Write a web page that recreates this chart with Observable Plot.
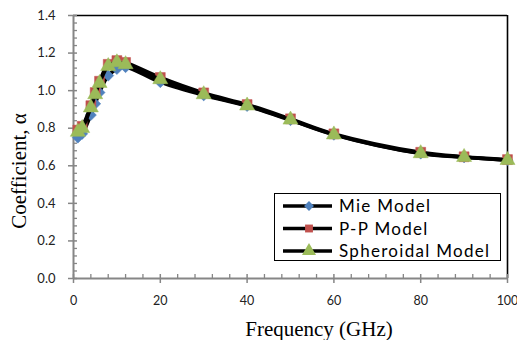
<!DOCTYPE html>
<html>
<head>
<meta charset="utf-8">
<script src="https://cdn.jsdelivr.net/npm/d3@7"></script>
<script src="https://cdn.jsdelivr.net/npm/@observablehq/plot@0.6"></script>
<style>
  html, body { margin: 0; padding: 0; background: #fff; }
  #wrap { position: relative; width: 517px; height: 340px; overflow: hidden; }
  #legend { position: absolute; left: 274px; top: 193px; width: 225px; height: 66px;
            border: 1.6px solid #000; background: #fff; }
  .title { position: absolute; font-family: "Liberation Serif", "Times New Roman", serif;
           font-size: 21px; color: #000; white-space: nowrap; line-height: 1; }
  #ytitle { left: 19px; top: 171px; transform: translate(-50%, -50%) rotate(-90deg); }
  #xtitle { left: 319px; top: 329px; transform: translate(-50%, -50%); }
</style>
</head>
<body>
<div id="wrap"><div id="chart"></div><div id="legend"></div>
<div class="title" id="ytitle"></div><div class="title" id="xtitle"></div></div>
<script>
const freq = [1, 2, 4, 5, 6, 8, 10, 12, 20, 30, 40, 50, 60, 80, 90, 100];
const mie  = [0.75, 0.77, 0.87, 0.93, 0.99, 1.08, 1.115, 1.125, 1.045, 0.975, 0.918, 0.843, 0.765, 0.665, 0.645, 0.630];
const pp   = [0.79, 0.81, 0.92, 0.99, 1.05, 1.14, 1.160, 1.150, 1.070, 0.988, 0.926, 0.850, 0.770, 0.672, 0.648, 0.633];
const sph  = [0.78, 0.80, 0.91, 0.98, 1.04, 1.13, 1.150, 1.140, 1.060, 0.980, 0.920, 0.845, 0.766, 0.666, 0.646, 0.630];
const seriesNames = ["Mie Model", "P-P Model", "Spheroidal Model"];
const seriesColors = ["#4F81BD", "#C0504D", "#9BBB59"];
const seriesSymbols = ["diamond2", "square", "triangle"];
const xTitle = "Frequency (GHz)";
const yTitle = "Coefficient, α";
const xTicks = [0, 20, 40, 60, 80, 100];
const xMinor = [4, 8, 12, 16, 24, 28, 32, 36, 44, 48, 52, 56, 64, 68, 72, 76, 84, 88, 92, 96];
const yTicks = [0, 0.2, 0.4, 0.6, 0.8, 1.0, 1.2, 1.4];
const yMinor = [0.04, 0.08, 0.12, 0.16, 0.24, 0.28, 0.32, 0.36, 0.44, 0.48, 0.52, 0.56,
                0.64, 0.68, 0.72, 0.76, 0.84, 0.88, 0.92, 0.96, 1.04, 1.08, 1.12, 1.16,
                1.24, 1.28, 1.32, 1.36];

const series = [mie, pp, sph].map((vals, k) => freq.map((f, i) => ({x: f, y: vals[i], s: seriesNames[k]})));

const gray = "#868686";
const marks = [];
marks.push(Plot.ruleY([1.4], {stroke: "#000", strokeWidth: 1.6}));
marks.push(Plot.ruleX([100], {stroke: "#000", strokeWidth: 1.6}));
marks.push(Plot.axisY({ticks: yMinor, tickSize: 4, dx: 4, text: null, label: null, stroke: gray, strokeWidth: 1.3}));
marks.push(Plot.axisY({ticks: yTicks, tickSize: 9, dx: 4, text: null, label: null, stroke: gray, strokeWidth: 1.5}));
marks.push(Plot.axisX({ticks: xMinor, tickSize: 4, dy: -4, text: null, label: null, stroke: gray, strokeWidth: 1.3}));
marks.push(Plot.axisX({ticks: xTicks, tickSize: 9, dy: -4, text: null, label: null, stroke: gray, strokeWidth: 1.5}));
marks.push(Plot.ruleX([0], {stroke: gray, strokeWidth: 2}));
marks.push(Plot.ruleY([0], {stroke: gray, strokeWidth: 2}));
marks.push(Plot.axisY({ticks: yTicks, tickSize: 0, tickPadding: 18, tickFormat: d3.format(".1f"),
  fontSize: 13, fontFamily: "Lato", fill: "#222", label: null}));
marks.push(Plot.axisX({ticks: xTicks, tickSize: 0, tickPadding: 18, tickFormat: d3.format("d"),
  fontSize: 12.5, fontFamily: "Lato", fill: "#222", label: null}));
const radii = [5.0, 5.6, 5.6];
series.forEach((d, k) => {
  marks.push(Plot.line(d, {x: "x", y: "y", stroke: "#000", strokeWidth: 3.5, curve: "catmull-rom"}));
  marks.push(Plot.dot(d, {x: "x", y: "y", symbol: seriesSymbols[k], fill: seriesColors[k],
    stroke: seriesColors[k], strokeWidth: 0.5, r: radii[k]}));
});

const chart = Plot.plot({
  width: 517, height: 340,
  marginLeft: 73, marginRight: 10, marginTop: 15, marginBottom: 62,
  x: {domain: [0, 100], axis: null},
  y: {domain: [0, 1.4], axis: null},
  style: {background: "#fff", overflow: "visible"},
  marks
});
document.getElementById("chart").appendChild(chart);
document.getElementById("xtitle").textContent = xTitle;
document.getElementById("ytitle").textContent = yTitle;

const lg = d3.select("#legend").append("svg").attr("width", 225).attr("height", 66);
seriesNames.forEach((name, k) => {
  const cy = 12 + k * 22.5;
  const g = lg.append("g").attr("transform", `translate(0,${cy})`);
  g.append("line").attr("x1", 8).attr("x2", 57).attr("y1", 0).attr("y2", 0)
    .attr("stroke", "#000").attr("stroke-width", 3.5);
  const sym = {diamond2: d3.symbolDiamond2, square: d3.symbolSquare, triangle: d3.symbolTriangle}[seriesSymbols[k]];
  const size = k === 2 ? 85 : 62;
  g.append("path").attr("d", d3.symbol(sym, size)()).attr("transform", "translate(34,0)")
    .attr("fill", seriesColors[k]);
  g.append("text").attr("x", 64).attr("y", 0).attr("dy", "0.36em")
    .attr("font-family", "Lato").attr("font-size", 17).attr("letter-spacing", "1.3px")
    .attr("fill", "#000").text(name);
});
</script>
</body>
</html>
